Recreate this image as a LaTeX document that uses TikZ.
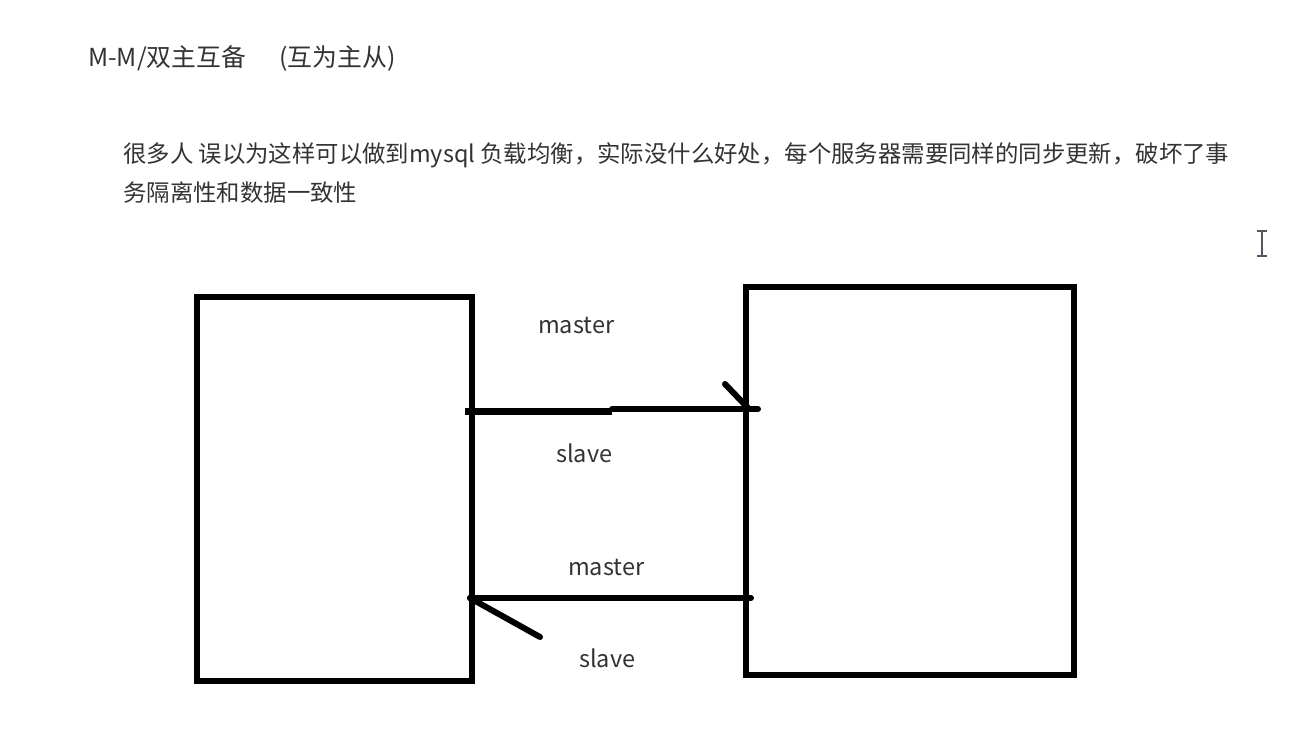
\documentclass[tikz,border=0pt]{standalone}
\usepackage{fontspec}
\setmainfont{Noto Sans CJK SC}
\definecolor{txt}{HTML}{333333}
\definecolor{cur}{HTML}{55555F}
\begin{document}
\begin{tikzpicture}[x=1pt,y=-1pt,
  lbl/.style={anchor=west,inner sep=0pt,text=txt,font=\fontsize{23.5}{28}\selectfont},
  para/.style={anchor=west,inner sep=0pt,text=txt,font=\fontsize{23.4}{28}\selectfont},
  ttl/.style={anchor=west,inner sep=0pt,text=txt,font=\fontsize{24.8}{30}\selectfont},
  box/.style={draw=black,line width=6pt,minimum width=275pt,minimum height=384pt,inner sep=0pt},
  wire/.style={draw=black,line width=6pt,line cap=round},
  barb/.style={draw=black,line width=6pt,line cap=round}]
\fill[white] (0,0) rectangle (1314,739);
\useasboundingbox (0,0) rectangle (1314,739);
% texts
\node[ttl] (title) at (88,58) {M-M/双主互备\hspace{1.35em}(互为主从)};
\node[para] (p1) at (123,155) {很多人 误以为这样可以做到mysql 负载均衡，实际没什么好处，每个服务器需要同样的同步更新，破坏了事};
\node[para] (p2) at (123,193) {务隔离性和数据一致性};
% boxes
\node[box] (L) at (334.5,489) {};
\node[box,minimum width=328pt,minimum height=388pt] (R) at (910,481) {};
% top connector
\coordinate (t1) at (465,411);
\coordinate (tm1) at (612,411);
\coordinate (tm2) at (612,409);
\coordinate (t2) at (758,409);
\coordinate (tb) at (725,384);
\coordinate (tt) at (748,408);
\draw[wire,line width=7pt,line cap=butt] (t1) -- (tm1);
\draw[wire] (tm2) -- (t2);
\draw[barb] (tb) -- (tt);
% bottom connector
\coordinate (b1) at (470,598);
\coordinate (b2) at (751,598);
\coordinate (bb) at (540,637);
\draw[wire] (b2) -- (b1);
\draw[barb] (b1) -- (bb);
% labels
\node[lbl] (m1) at (538,325) {master};
\node[lbl] (s1) at (556,453) {slave};
\node[lbl] (m2) at (568,567) {master};
\node[lbl] (s2) at (579,658) {slave};
% text cursor
\draw[cur,line width=2pt] (1262,231) -- (1262,256);
\draw[cur,line width=1.5pt] (1257,231) -- (1267,231);
\draw[cur,line width=1.5pt] (1257,256) -- (1267,256);
\end{tikzpicture}
\end{document}
